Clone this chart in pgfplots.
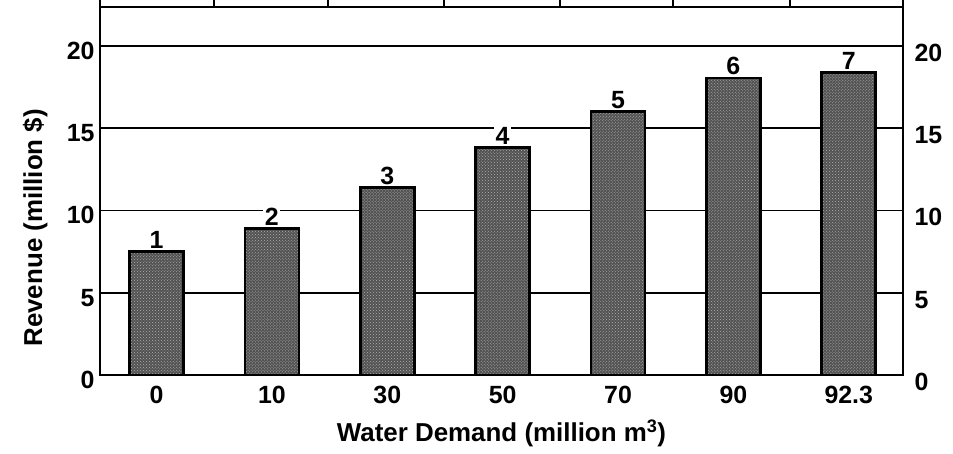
\documentclass[border=0pt]{standalone}
\usepackage{pgfplots}
\pgfplotsset{compat=1.18}
\usepackage{pgfplotstable}
\usepackage{fontspec}
\setmainfont{Liberation Sans}
\usetikzlibrary{calc,patterns}
\pgfplotstableread{
x y lab
0 7.5 1
1 8.9 2
2 11.4 3
3 13.8 4
4 16.0 5
5 18.05 6
6 18.4 7
}\data
\begin{document}
\begin{tikzpicture}
\pgfplotsset{common/.style={scale only axis, width=803bp, height=368bp,
  xmin=-0.49, xmax=6.47, ymin=0, ymax=22.36,
  ytick={0,5,10,15,20}, major tick length=0,
  font=\fontsize{25}{28}\selectfont\bfseries,
  /pgf/number format/assume math mode=true,
  axis line style={line width=2.4bp}}}
\begin{axis}[common, name=ax,
  xtick={0,1,2,3,4,5,6}, xticklabels={0,10,30,50,70,90,92.3},
  xticklabel style={anchor=north, yshift=-8bp},
  yticklabel style={anchor=east, xshift=-2bp, yshift=-5bp},
  ymajorgrids, grid style={black, line width=1.8bp},
  ylabel={Revenue (million \$)},
  ylabel style={at={(axis description cs:-0.072,0.40)}, anchor=base, font=\fontsize{26}{28}\selectfont\bfseries},
  xlabel={Water Demand (million m\textsuperscript{3})},
  xlabel style={at={(axis description cs:0.5,0)}, anchor=base, yshift=-66bp, font=\fontsize{26}{28}\selectfont\bfseries},
  nodes near coords, point meta=explicit symbolic,
  nodes near coords style={fill=white, inner sep=1.5bp, anchor=south, font=\fontsize{25}{28}\selectfont\bfseries},
]
\addplot[ybar, bar width=54bp, fill=black!68, draw=black, line width=2.8bp,
  postaction={pattern=crosshatch dots, pattern color=black!30}] table[x=x, y=y, meta=lab] {\data};
\end{axis}
\begin{axis}[common, axis x line=none, axis y line*=right,
  yticklabel style={anchor=west, xshift=8bp, yshift=-7bp}]
\addplot[draw=none] coordinates {(0,0)};
\end{axis}
\foreach \dx in {0,114,228,344,460,573,690,803}
  \draw[line width=1.8bp] ($(ax.north west)+(\dx bp,0)$) -- ++(0,8bp);
\pgfresetboundingbox
\path[use as bounding box] ($(ax.south west)+(-100bp,-79bp)$) rectangle ($(ax.north east)+(50bp,7bp)$);
\end{tikzpicture}
\end{document}
